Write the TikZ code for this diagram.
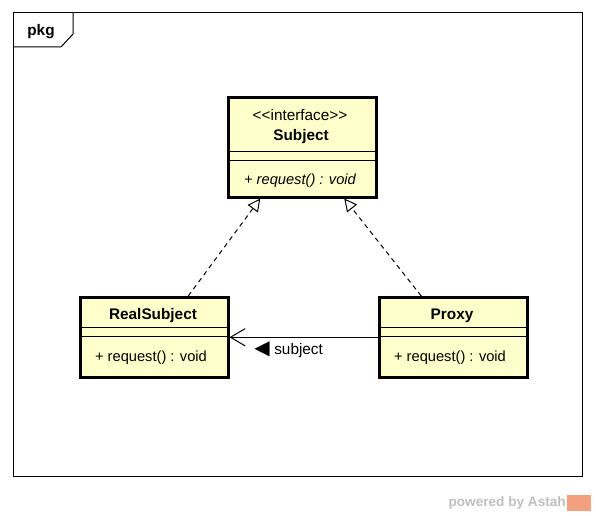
\documentclass[tikz,border=0pt]{standalone}
\usepackage{fontspec}
\setmainfont{Liberation Sans}
\newfontfamily\symfont{DejaVu Sans}
\usetikzlibrary{arrows.meta,calc}
\definecolor{classfill}{RGB}{255,255,204}
\definecolor{astahgray}{RGB}{190,190,190}
\definecolor{astahorange}{RGB}{242,160,125}

\begin{document}
\begin{tikzpicture}[x=0.75pt,y=0.75pt,yscale=-1,xscale=1,
  classbox/.style={draw, line width=1.9pt, fill=classfill, anchor=north west, inner sep=0pt, minimum width=111pt},
  classtext/.style={inner sep=0.75pt, font=\fontsize{11.5}{13}\selectfont},
  nametext/.style={inner sep=0.75pt, font=\fontsize{11.5}{13}\selectfont\bfseries},
  optext/.style={inner sep=0.75pt, font=\fontsize{11}{13}\selectfont},
  realize/.style={dash pattern={on 3.5pt off 3pt}, line width=0.75pt, -{Triangle[open, length=9.5pt, width=9.5pt, line width=0.75pt]}},
  assoc/.style={line width=0.75pt, -{Straight Barb[length=11pt, width=13pt, line width=0.75pt]}}]
\useasboundingbox (0,0) rectangle (596,516);

% package frame
\draw [line width=0.75pt]  (13,13) rectangle (582,476) ;
\draw [line width=0.75pt]  (73,13) -- (73,34) -- (61,47) -- (13,47) ;
\node [nametext] (pkg) at (41,32) {pkg};

% Subject
\node [classbox, minimum height=75pt] (subject) at (227,96) {};
\draw [line width=0.75pt]  (227,152) -- (375,152) ;
\draw [line width=0.75pt]  (227,161) -- (375,161) ;
\node [classtext] (subjectstereo) at (300,115) {<\kern0pt<interface>\kern0pt>};
\node [nametext] (subjectname) at (301,137) {Subject};
\node [optext, font=\fontsize{11}{13}\selectfont\itshape] (subjectop) at (300,181) {+ request() : void};

% RealSubject
\node [classbox, minimum height=60pt] (realsubject) at (79,296) {};
\draw [line width=0.75pt]  (79,328) -- (227,328) ;
\draw [line width=0.75pt]  (79,337) -- (227,337) ;
\node [nametext] (realsubjectname) at (153,316) {RealSubject};
\node [optext] (realsubjectop) at (151,358) {+ request() : void};

% Proxy
\node [classbox, minimum height=60pt] (proxy) at (378,296) {};
\draw [line width=0.75pt]  (378,328) -- (526,328) ;
\draw [line width=0.75pt]  (378,337) -- (526,337) ;
\node [nametext] (proxyname) at (452,316) {Proxy};
\node [optext] (proxyop) at (450,358) {+ request() : void};

% realizations
\draw [realize]  ($(realsubject.north)+(34,0)$) -- ($(subject.south)+(-42,0)$) ;
\draw [realize]  ($(proxy.north)+(-32,0)$) -- ($(subject.south)+(42,0)$) ;

% association
\draw [assoc]  (proxy.west) -- (realsubject.east) ;
\node [classtext, anchor=west] (assoclabel) at (253,350) {{\symfont\fontsize{15}{15}\selectfont ◀}\kern3.5pt subject};

% footer
\node [anchor=east, inner sep=0pt, text=astahgray, font=\fontsize{10.2}{12}\selectfont\bfseries] (powered) at (566,503) {powered by Astah};
\fill [astahorange]  (567,495) rectangle (591,511) ;
\end{tikzpicture}
\end{document}
